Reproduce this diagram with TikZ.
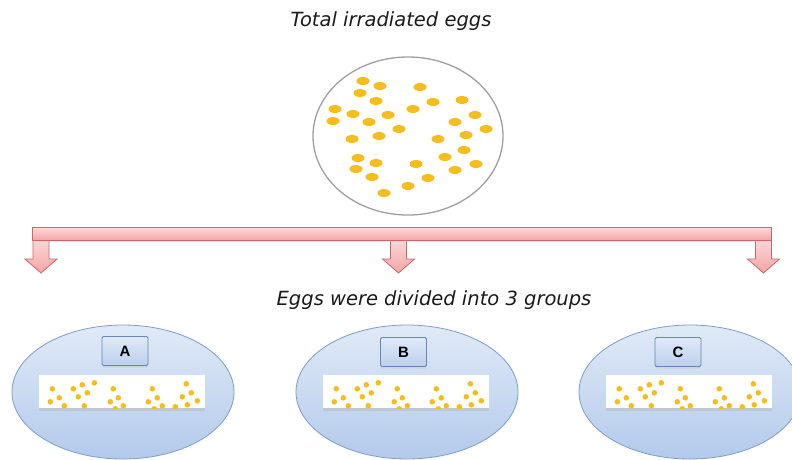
\documentclass[tikz,border=0pt]{standalone}
\usepackage{fontspec}
\setmainfont{DejaVu Sans}
\newfontfamily\lblfont{Liberation Sans}
\usetikzlibrary{shapes.geometric,shadows}
\definecolor{egg}{HTML}{F5BE1E}
\definecolor{pinkL}{HTML}{FDDCDC}
\definecolor{pinkD}{HTML}{F4A5A5}
\definecolor{pinkB}{HTML}{C9686A}
\definecolor{blueL}{HTML}{E0EAF7}
\definecolor{blueD}{HTML}{B3CAEB}
\definecolor{blueB}{HTML}{7F9CC8}
\definecolor{boxB}{HTML}{6A86B4}
\definecolor{ink}{HTML}{1A1A1A}
\tikzset{
  caption/.style={font=\itshape\fontsize{19.5}{23}\selectfont, text=ink, inner sep=0},
  eggdot/.style={fill=egg},
  downarrow/.style={draw=pinkB, line width=0.8pt, top color=pinkL, bottom color=pinkD},
  groupell/.style={ellipse, draw=blueB, line width=0.8pt, top color=blueL, bottom color=blueD, minimum width=222, minimum height=134, inner sep=0},
  lblbox/.style={draw=boxB, line width=0.8pt, rounded corners=1.5pt, top color=blueL, bottom color=blueD!90, minimum width=46, minimum height=29, inner sep=0, font=\lblfont\bfseries\fontsize{15}{17}\selectfont, drop shadow={shadow xshift=0pt, shadow yshift=-2pt, fill=gray!45}},
  strip/.style={fill=white, minimum width=166, minimum height=33, inner sep=0, drop shadow={shadow xshift=0pt, shadow yshift=-2.5pt, fill=gray!55}}
}
\begin{document}
\begin{tikzpicture}[x=1pt,y=-1pt]
\useasboundingbox (0,0) rectangle (792,459);
\fill[white] (0,0) rectangle (792,459);

% title and dish
\node[caption] (title) at (391,21) {Total irradiated eggs};
\node[ellipse, draw=gray!75, line width=1.3pt, fill=white, minimum width=190, minimum height=158, inner sep=0] (dish) at (408,136) {};
\foreach \x/\y in {363/81,380/86,420/87,360/93,376/101,433/102,462/100,335/109,353/114,388/115,413/109,475/115,333/121,369/122,455/122,486/129,399/129,352/139,379/136,438/139,466/135,464/150,358/158,376/163,416/164,445/157,476/164,356/169,455/170,372/177,428/178,408/186,384/193}
  \fill[eggdot] (\x,\y) ellipse (6.5 and 4);

% arrows and bar
\foreach \cx in {41,398.5,763.5}
  \draw[downarrow] (\cx-8,236) -- (\cx+8,236) -- (\cx+8,259) -- (\cx+16,259) -- (\cx,273) -- (\cx-16,259) -- (\cx-8,259) -- cycle;
\node[rectangle, draw=pinkB, line width=0.8pt, top color=pinkL, bottom color=pinkD, minimum width=739, minimum height=13, inner sep=0, drop shadow={shadow xshift=0pt, shadow yshift=-1.5pt, fill=gray!35}] (bar) at (401.5,233.5) {};

\node[caption] (groups) at (434,300) {Eggs were divided into 3 groups};

% groups
\node[groupell] (ga) at (123,392) {};
\node[groupell] (gb) at (407,392) {};
\node[groupell] (gc) at (690,392) {};

\node[lblbox] (la) at (125,351) {A};
\node[lblbox] (lb) at (403.5,352) {B};
\node[lblbox] (lc) at (678,352) {C};

\node[strip] (sa) at (121.5,391.5) {};
\node[strip] (sb) at (405.5,391.5) {};
\node[strip] (sc) at (688.5,391.5) {};

\foreach \s in {sa,sb,sc}{
  \begin{scope}
    \clip (\s.south west) rectangle (\s.north east);
    \begin{scope}[shift={(\s.north west)}]
      \foreach \dx/\dy in {14/14,35/14,44/10,56/8,49/18,21/23,40/22,12/27,26/31,46/31,75/14,80/23,72/27,85/31,77/34,114/14,119/23,110/27,124/31,116/34,148/9,153/18,144/22,159/26,149/30,137/32}
        \fill[eggdot] (\dx,\dy) circle (2.8);
    \end{scope}
  \end{scope}
}
\end{tikzpicture}
\end{document}
